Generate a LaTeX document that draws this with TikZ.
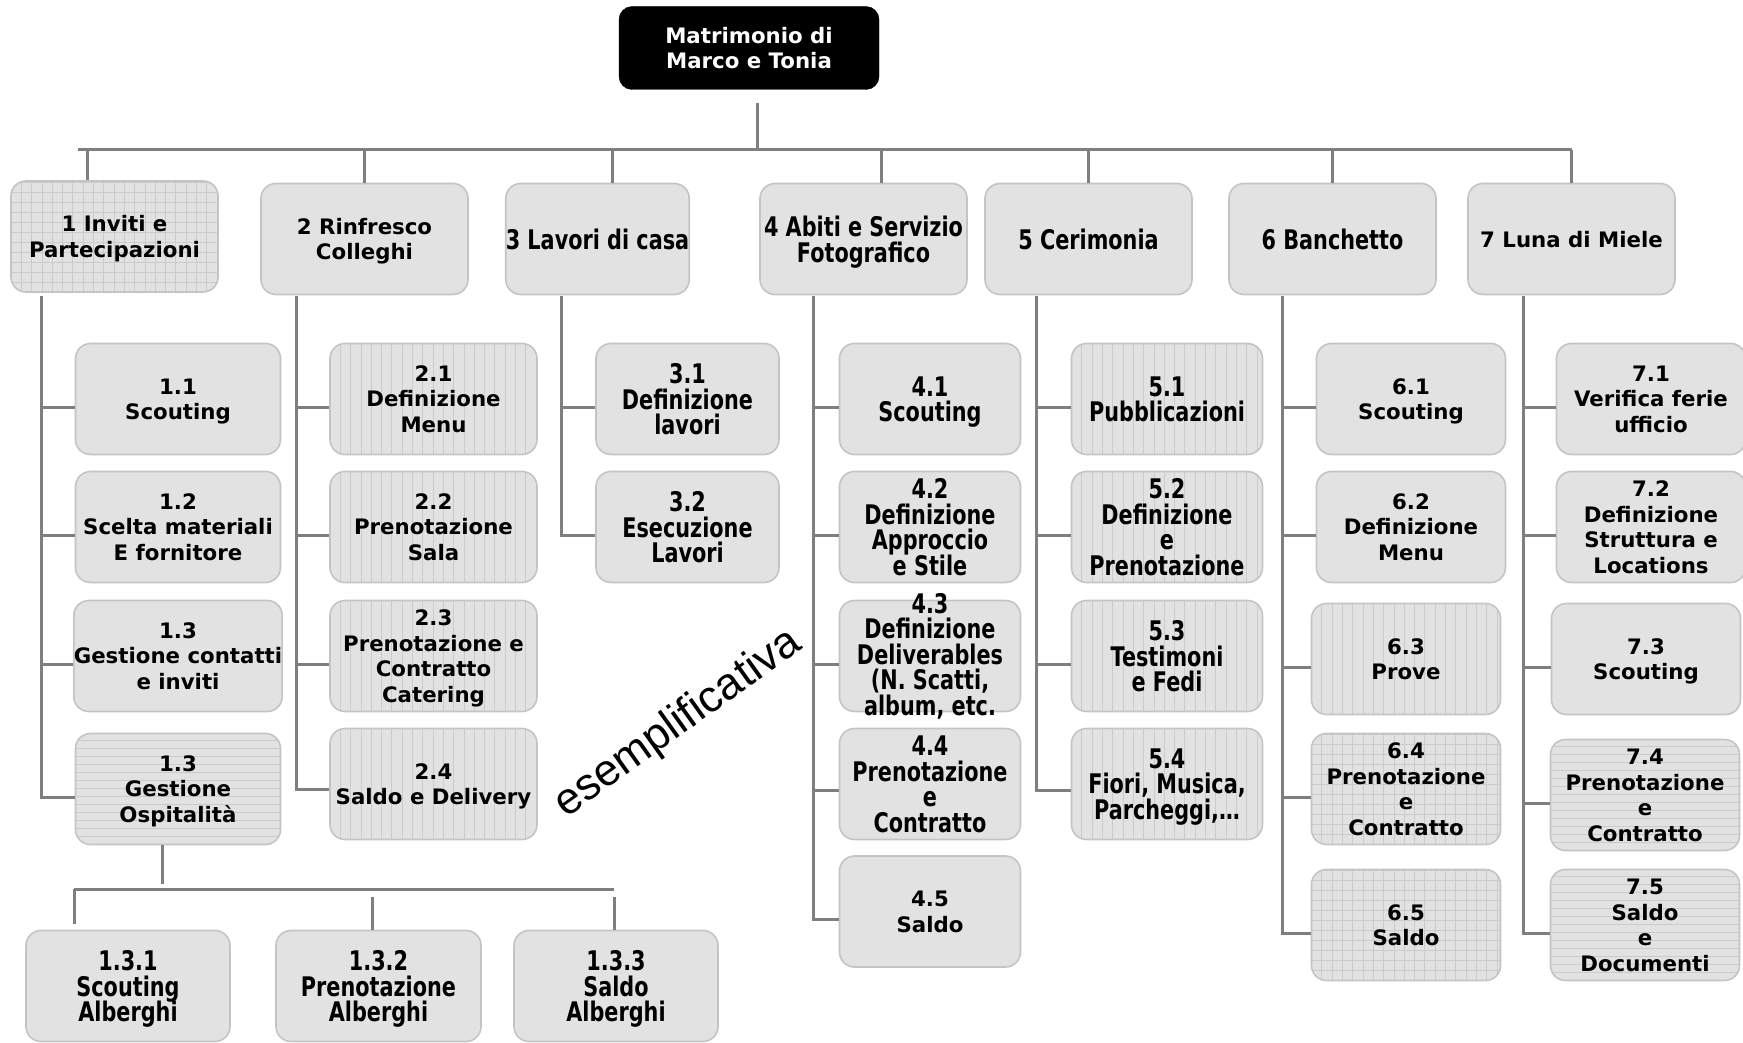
\documentclass[tikz,border=0pt]{standalone}
\usepackage{fontspec}
\setmainfont{DejaVu Sans}
\newfontfamily\condf[FakeStretch=0.77]{DejaVu Sans}
\newfontfamily\arialf{Liberation Sans}
\definecolor{boxfill}{HTML}{E2E2E2}
\definecolor{boxline}{HTML}{C4C4C4}
\definecolor{patc}{HTML}{CBCBCB}
\definecolor{connc}{HTML}{7F7F7F}
\AtBeginDocument{\lineskiplimit=-50pt\relax}
\begin{document}
\begin{tikzpicture}[x=1pt,y=-1pt,
  bx/.style={draw=boxline, line width=1.6pt, fill=boxfill, rounded corners=15pt,
    inner sep=0pt, minimum height=111pt, align=center, text=black, text depth=0pt},
  nf/.style={font=\fontsize{21.3}{25.5}\selectfont\bfseries},
  cf/.style={font=\condf\fontsize{27}{25.5}\selectfont\bfseries},
  conn/.style={draw=connc, line width=3pt, line join=miter},
  pat/.style={draw=patc, line width=0.7pt},
  vlines/.style={path picture={\foreach \k in {1,...,22}{\draw[pat] ([xshift={\k*10.3pt}]path picture bounding box.south west) -- ([xshift={\k*10.3pt}]path picture bounding box.north west);}}},
  hlines/.style={path picture={\foreach \k in {1,...,16}{\draw[pat] ([yshift={\k*8pt}]path picture bounding box.south west) -- ([yshift={\k*8pt}]path picture bounding box.south east);}}},
  gridfill/.style={path picture={\foreach \k in {1,...,22}{\draw[pat] ([xshift={\k*10.3pt}]path picture bounding box.south west) -- ([xshift={\k*10.3pt}]path picture bounding box.north west);}
     \foreach \k in {1,...,12}{\draw[pat] ([yshift={\k*10pt}]path picture bounding box.south west) -- ([yshift={\k*10pt}]path picture bounding box.south east);}}},
  w1/.style={minimum width=205pt}, w2/.style={minimum width=207pt},
  w3/.style={minimum width=183pt}, w4/.style={minimum width=181pt},
  w5/.style={minimum width=191pt}, w6/.style={minimum width=189pt},
  w7/.style={minimum width=189pt}
]
\fill[white] (0,0) rectangle (1743,1043);
\useasboundingbox (0,0) rectangle (1743,1043);

% root
\node[draw=black, fill=black, rounded corners=13pt, minimum width=260pt, minimum height=83pt,
  inner sep=0pt, align=center, text=white, nf] (root) at (749,48) {Matrimonio di\\Marco e Tonia};

% top level
\node[bx, nf, w2, gridfill] (t1) at (114.5,236.5) {1 Inviti e\\Partecipazioni};
\node[bx, nf, w2] (t2) at (364.5,239) {2 Rinfresco\\Colleghi};
\node[bx, cf, minimum width=177pt] (t3) at (597.5,239) {3 Lavori di casa};
\node[bx, cf, w2] (t4) at (863.5,239) {4 Abiti e Servizio\\Fotografico};
\node[bx, cf, w2] (t5) at (1088.5,239) {5 Cerimonia};
\node[bx, cf, w2] (t6) at (1332.5,239) {6 Banchetto};
\node[bx, nf, w2] (t7) at (1571.5,239) {7 Luna di Miele};

% column 1
\node[bx, nf, w1] (s11) at (178,399) {1.1\\Scouting};
\node[bx, nf, w1] (s12) at (178,527) {1.2\\Scelta materiali\\E fornitore};
\node[bx, nf, w1] (s13) at (178,656) {1.3\\Gestione contatti\\e inviti};
\node[bx, nf, w1, hlines] (s14) at (178,789) {1.3\\Gestione\\Ospitalità};

% column 2
\node[bx, nf, w2, vlines] (s21) at (433.5,399) {2.1\\Definizione\\Menu};
\node[bx, nf, w2, vlines] (s22) at (433.5,527) {2.2\\Prenotazione\\Sala};
\node[bx, nf, w2, vlines] (s23) at (433.5,656) {2.3\\Prenotazione e\\Contratto\\Catering};
\node[bx, nf, w2, vlines] (s24) at (433.5,784) {2.4\\Saldo e Delivery};

% column 3
\node[bx, cf, w3] (s31) at (687.5,399) {3.1\\Definizione\\lavori};
\node[bx, cf, w3] (s32) at (687.5,527) {3.2\\Esecuzione\\Lavori};

% column 4
\node[bx, cf, w4] (s41) at (930,399) {4.1\\Scouting};
\node[bx, cf, w4] (s42) at (930,527) {4.2\\Definizione\\Approccio\\e Stile};
\node[bx, cf, w4] (s43) at (930,656) {};
\node[cf, align=center, inner sep=0pt] (s43t) at (930,656) {4.3\\Definizione\\Deliverables\\(N. Scatti,\\album, etc.};
\node[bx, cf, w4] (s44) at (930,784) {4.4\\Prenotazione\\e\\Contratto};
\node[bx, nf, w4] (s45) at (930,911.5) {4.5\\Saldo};

% column 5
\node[bx, cf, w5, vlines] (s51) at (1167,399) {5.1\\Pubblicazioni};
\node[bx, cf, w5, vlines] (s52) at (1167,527) {5.2\\Definizione\\e\\Prenotazione};
\node[bx, cf, w5, vlines] (s53) at (1167,656) {5.3\\Testimoni\\e Fedi};
\node[bx, cf, w5, vlines] (s54) at (1167,784) {5.4\\Fiori, Musica,\\Parcheggi,…};

% column 6
\node[bx, nf, w6] (s61) at (1411,399) {6.1\\Scouting};
\node[bx, nf, w6] (s62) at (1411,527) {6.2\\Definizione\\Menu};
\node[bx, nf, w6, vlines] (s63) at (1406,659) {6.3\\Prove};
\node[bx, nf, w6, gridfill] (s64) at (1406,789) {6.4\\Prenotazione\\e\\Contratto};
\node[bx, nf, w6, gridfill] (s65) at (1406,925) {6.5\\Saldo};

% column 7
\node[bx, nf, w7] (s71) at (1651,399) {7.1\\Verifica ferie\\ufficio};
\node[bx, nf, w7] (s72) at (1651,527) {7.2\\Definizione\\Struttura e\\Locations};
\node[bx, nf, w7] (s73) at (1646,659) {7.3\\Scouting};
\node[bx, nf, w7, hlines] (s74) at (1645,795) {7.4\\Prenotazione\\e\\Contratto};
\node[bx, nf, w7, hlines] (s75) at (1645,925) {7.5\\Saldo\\e\\Documenti};

% level 3
\node[bx, cf, minimum width=204pt] (b131) at (128,986) {1.3.1\\Scouting\\Alberghi};
\node[bx, cf, minimum width=205pt] (b132) at (378.5,986) {1.3.2\\Prenotazione\\Alberghi};
\node[bx, cf, minimum width=204pt] (b133) at (616,986) {1.3.3\\Saldo\\Alberghi};

% watermark
\node[font=\arialf\fontsize{44.5}{50}\selectfont, rotate=35.6, inner sep=0pt] (wm) at (678,724) {esemplificativa};

% connectors: root to bus
\coordinate (rs) at (757,103);
\coordinate (busL) at (78,150);
\coordinate (busR) at (1572,150);
\draw[conn] (rs) -- (rs |- busL);
\draw[conn] (busL) -- (busR);
\coordinate (d1) at (87,150);
\coordinate (d3) at (612,150);
\coordinate (d4) at (881,150);
\draw[conn] (d1) -- (d1 |- t1.north);
\draw[conn] (t2.north) -- (t2.north |- busL);
\draw[conn] (d3) -- (d3 |- t3.north);
\draw[conn] (d4) -- (d4 |- t4.north);
\draw[conn] (t5.north) -- (t5.north |- busL);
\draw[conn] (t6.north) -- (t6.north |- busL);
\draw[conn] (t7.north) -- (t7.north |- busL);

% column trunks
\coordinate (c1) at (41,296);
\coordinate (c2) at (296,296);
\coordinate (c3) at (561,296);
\coordinate (c4) at (813,296);
\coordinate (c5) at (1036,296);
\coordinate (c6) at (1282,296);
\coordinate (c7) at (1523,296);
\foreach \n in {s11,s12,s13,s14} \draw[conn] (c1) |- ([yshift=-8pt]\n.west);
\foreach \n in {s21,s22,s23} \draw[conn] (c2) |- ([yshift=-8pt]\n.west);
\draw[conn] (c2) |- ([yshift=-5pt]s24.west);
\foreach \n in {s31,s32} \draw[conn] (c3) |- ([yshift=-8pt]\n.west);
\foreach \n in {s41,s42,s43} \draw[conn] (c4) |- ([yshift=-8pt]\n.west);
\draw[conn] (c4) |- ([yshift=-6pt]s44.west);
\draw[conn] (c4) |- ([yshift=-7.5pt]s45.west);
\foreach \n in {s51,s52,s53} \draw[conn] (c5) |- ([yshift=-8pt]\n.west);
\draw[conn] (c5) |- ([yshift=-6pt]s54.west);
\foreach \n in {s61,s62,s63,s64,s65} \draw[conn] (c6) |- ([yshift=-8pt]\n.west);
\foreach \n in {s71,s72,s73,s74,s75} \draw[conn] (c7) |- ([yshift=-8pt]\n.west);

% level 3 connectors
\coordinate (v0) at (162,845);
\coordinate (v1) at (162,884);
\coordinate (hb0) at (74,889);
\coordinate (hb1) at (614,889);
\coordinate (m1) at (74,924);
\coordinate (m2) at (372,897);
\coordinate (m3) at (614,897);
\draw[conn] (v0) -- (v1);
\draw[conn] (hb0) -- (hb1);
\draw[conn] (hb0) -- (m1);
\draw[conn] (m2) -- (m2 |- b132.north);
\draw[conn] (m3) -- (m3 |- b133.north);
\end{tikzpicture}
\end{document}
